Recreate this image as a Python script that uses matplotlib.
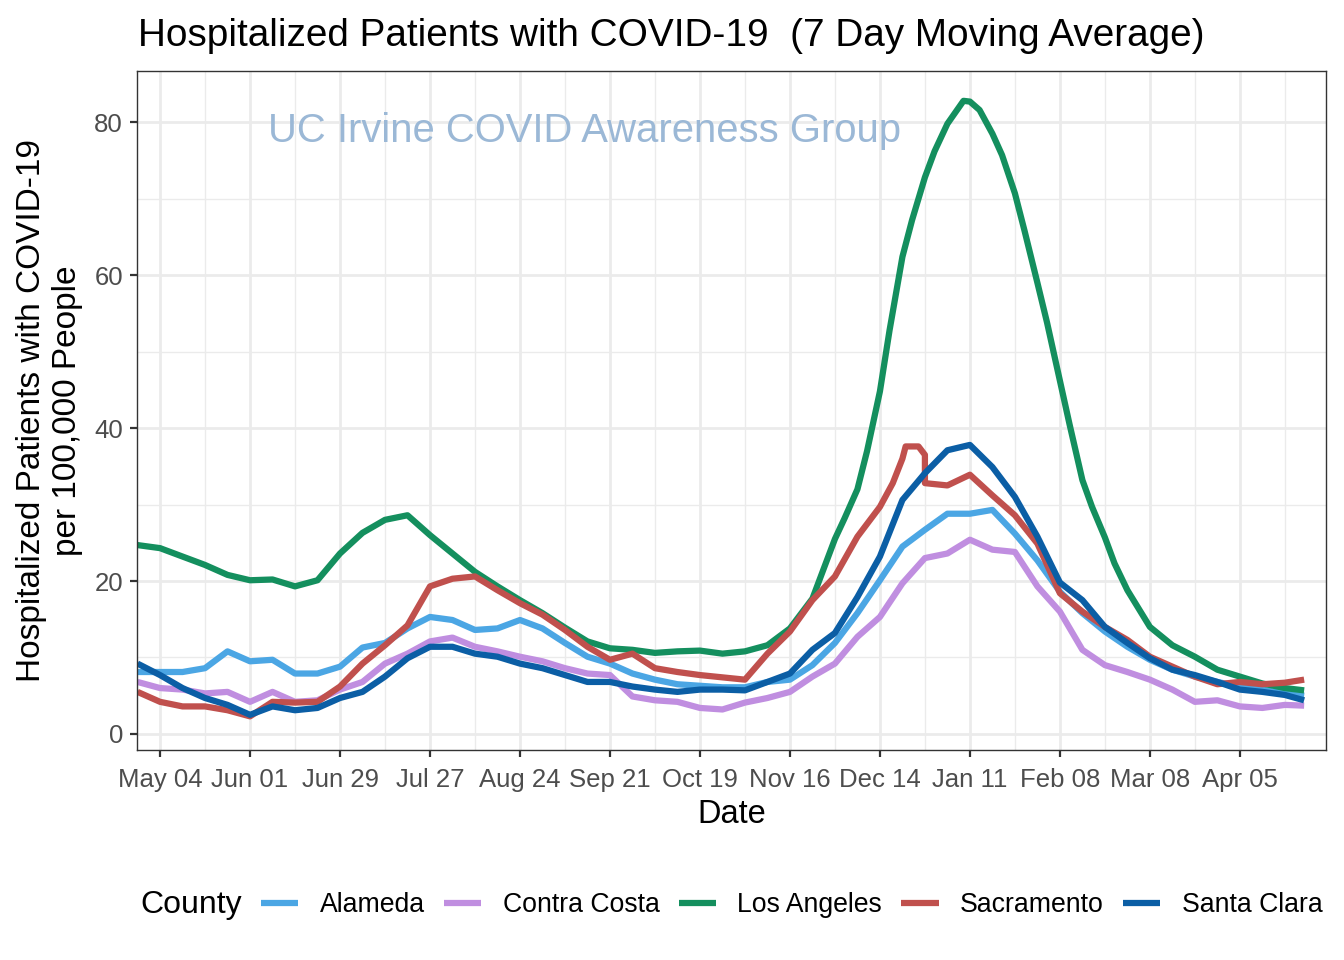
import numpy as np
import pandas as pd
import matplotlib
matplotlib.use("Agg")
import matplotlib.pyplot as plt
import matplotlib.dates as mdates

plt.rcParams['font.family'] = ['Liberation Sans', 'DejaVu Sans']

# weekly readings from 2020-04-27, last point 2021-04-25
dates = list(pd.date_range('2020-04-27', periods=52, freq='7D')) + [pd.Timestamp('2021-04-25')]

alameda = [8.1, 8.1, 8.1, 8.6, 10.8, 9.5, 9.7, 7.9, 7.9, 8.8,
           11.3, 11.9, 13.8, 15.3, 14.9, 13.6, 13.8, 14.9, 13.8, 11.9,
           10.1, 9.2, 7.9, 7.1, 6.5, 6.3, 6.1, 6.1, 6.8, 7.1,
           9.0, 11.9, 15.8, 20.1, 24.5, 26.7, 28.8, 28.8, 29.3, 26.2,
           22.7, 18.6, 15.8, 13.4, 11.4, 9.7, 8.4, 7.5, 6.8, 6.2,
           5.8, 5.3, 5.0]
contra_costa = [6.8, 6.0, 5.8, 5.3, 5.5, 4.2, 5.5, 4.2, 4.4, 5.8,
                6.8, 9.2, 10.5, 12.1, 12.6, 11.4, 10.8, 10.1, 9.5, 8.6,
                7.9, 7.7, 4.9, 4.4, 4.2, 3.4, 3.2, 4.1, 4.7, 5.5,
                7.5, 9.2, 12.7, 15.3, 19.7, 23.0, 23.6, 25.4, 24.1, 23.8,
                19.3, 16.0, 11.0, 9.0, 8.1, 7.1, 5.8, 4.2, 4.4, 3.6,
                3.4, 3.8, 3.7]
los_angeles = [24.7, 24.3, 23.2, 22.1, 20.8, 20.1, 20.2, 19.3, 20.1, 23.6,
               26.3, 28.0, 28.6, 26.0, 23.6, 21.2, 19.3, 17.5, 15.8, 13.9,
               12.1, 11.2, 11.0, 10.6, 10.8, 10.9, 10.5, 10.8, 11.6, 13.8,
               17.7, 25.5, 32.0, 44.8, 62.4, 72.8, 79.8, 82.7, 78.5, 70.7,
               59.0, 46.2, 33.2, 25.7, 18.8, 14.0, 11.6, 10.1, 8.4, 7.5,
               6.6, 6.0, 5.7]
# mid-week readings around the winter peak
la_extra_dates = pd.to_datetime(['2020-12-03', '2020-12-10', '2020-12-17', '2020-12-24',
                                 '2020-12-31', '2021-01-07', '2021-01-09', '2021-01-14',
                                 '2021-01-21', '2021-01-28', '2021-02-04', '2021-02-11',
                                 '2021-02-18', '2021-02-25'])
la_extra_vals = [28.2, 37.0, 52.8, 67.2, 76.2, 81.6, 82.8, 81.6,
                 75.7, 65.8, 53.8, 40.5, 29.7, 22.3]
sacramento = [5.5, 4.2, 3.6, 3.6, 3.1, 2.3, 4.2, 4.1, 4.2, 6.2,
              9.2, 11.6, 14.2, 19.3, 20.3, 20.6, 18.8, 17.1, 15.6, 13.6,
              11.4, 9.7, 10.5, 8.6, 8.1, 7.7, 7.4, 7.1, 10.5, 13.4,
              17.5, 20.6, 25.8, 29.7, 36.0, 32.8, 32.5, 33.9, 31.2, 28.6,
              24.9, 18.4, 16.0, 14.0, 12.3, 10.1, 8.8, 7.5, 6.5, 6.8,
              6.5, 6.7, 7.1]
# short spike in late December
sac_extra_dates = pd.to_datetime(['2020-12-18', '2020-12-22', '2020-12-26', '2020-12-28'])
sac_extra_vals = [32.8, 37.6, 37.6, 36.5]
santa_clara = [9.2, 7.7, 6.0, 4.7, 3.8, 2.5, 3.6, 3.1, 3.4, 4.7,
               5.5, 7.5, 9.9, 11.4, 11.4, 10.5, 10.1, 9.2, 8.6, 7.7,
               6.8, 6.8, 6.2, 5.8, 5.5, 5.8, 5.8, 5.7, 6.8, 7.9,
               11.0, 13.2, 17.9, 23.2, 30.6, 34.1, 37.1, 37.8, 34.9, 31.0,
               25.8, 19.8, 17.5, 14.0, 11.9, 9.9, 8.4, 7.7, 6.8, 5.8,
               5.5, 5.1, 4.4]

counties = ['Alameda', 'Contra Costa', 'Los Angeles', 'Sacramento', 'Santa Clara']
colors = ['#4ba6e4', '#c08ee0', '#148f5e', '#c0504d', '#0b5ea5']

la = pd.Series(los_angeles + la_extra_vals, index=list(dates) + list(la_extra_dates)).sort_index()
sac = pd.Series(sacramento + sac_extra_vals, index=list(dates) + list(sac_extra_dates)).sort_index()
series = [pd.Series(alameda, index=dates), pd.Series(contra_costa, index=dates),
          la, sac, pd.Series(santa_clara, index=dates)]

fig = plt.figure(figsize=(13.44, 9.6), dpi=100)
ax = fig.add_axes([137/1344, 1 - 750/960, (1326 - 137)/1344, (750 - 71)/960])

handles = []
for name, s, c in zip(counties, series, colors):
    h, = ax.plot(s.index, s.values, color=c, lw=4.5, label=name,
                 solid_joinstyle='round', solid_capstyle='butt')
    handles.append(h)

major = pd.date_range('2020-05-04', periods=13, freq='28D')
minor = pd.date_range('2020-04-20', periods=14, freq='28D')
ax.set_xticks(major)
ax.set_xticks(minor, minor=True)
ax.xaxis.set_major_formatter(mdates.DateFormatter('%b %d'))
ax.set_yticks([0, 20, 40, 60, 80])
ax.set_yticks([10, 30, 50, 70], minor=True)

# limits after ticks so the minor ticks do not widen the view
start = pd.Timestamp('2020-04-27')
ax.set_xlim(start - pd.Timedelta(hours=4), start + pd.Timedelta(days=369.8))
ax.set_ylim(-2.1, 86.7)

ax.grid(which='major', color='#ebebeb', lw=2.0)
ax.grid(which='minor', color='#ebebeb', lw=1.0)
ax.set_axisbelow(True)
for sp in ax.spines.values():
    sp.set_color('#333333')
    sp.set_linewidth(1.0)
ax.tick_params(which='major', length=5, width=1.6, color='#333333',
               labelsize=18.5, labelcolor='#4d4d4d', pad=5)
ax.tick_params(axis='x', which='major', pad=8)
ax.tick_params(which='minor', length=0)

ax.set_xlabel('Date', fontsize=23.5, labelpad=5)
ax.set_ylabel('Hospitalized Patients with COVID-19\nper 100,000 People', fontsize=24, labelpad=8)

ax.text(pd.Timestamp('2020-09-13'), 78.8, 'UC Irvine COVID Awareness Group',
        color='#9bb8d6', fontsize=28.8, ha='center', va='center')

fig.text(138/1344, 1 - 36/960, 'Hospitalized Patients with COVID-19  (7 Day Moving Average)',
         fontsize=27.9, ha='left', va='center')

fig.text(140/1344, 1 - 905/960, 'County', fontsize=23, ha='left', va='center')
fig.legend(handles=handles, labels=counties, loc='center left',
           bbox_to_anchor=(261/1344, 1 - 905/960), ncol=5, frameon=False,
           fontsize=19.2, handlelength=1.4, handletextpad=0.8, columnspacing=0.72,
           borderpad=0, borderaxespad=0)

fig.savefig('out.png', dpi=100)
